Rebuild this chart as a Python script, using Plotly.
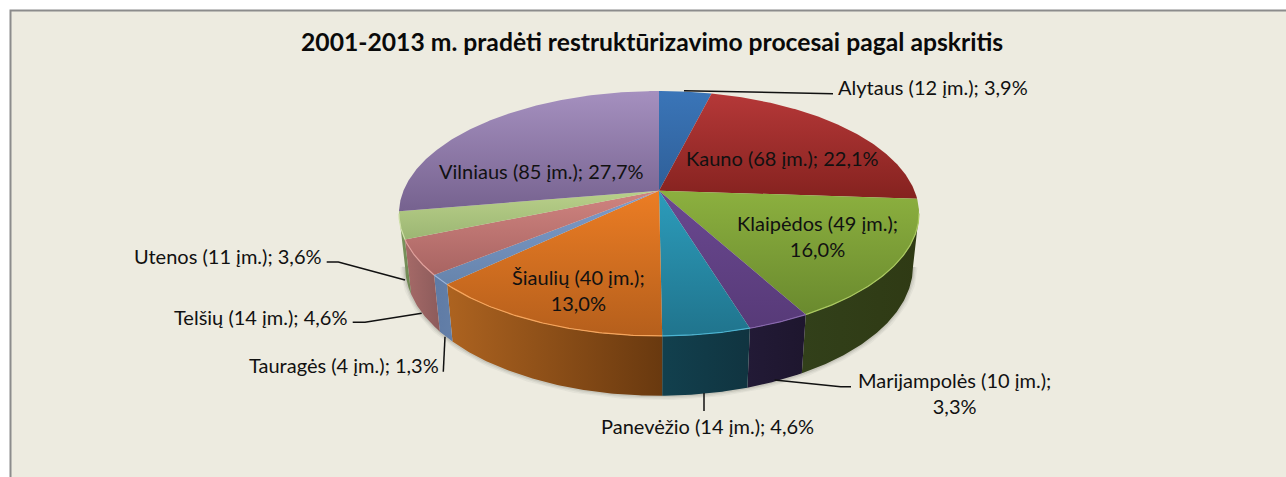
import numpy as np
import plotly.graph_objects as go

# ---------- data ----------
regions = ["Alytaus", "Kauno", "Klaipėdos", "Marijampolės", "Panevėžio",
           "Šiaulių", "Tauragės", "Telšių", "Utenos", "Vilniaus"]
companies = [12, 68, 49, 10, 14, 40, 4, 14, 11, 85]
shares = ["3,9", "22,1", "16,0", "3,3", "4,6", "13,0", "1,3", "4,6", "3,6", "27,7"]
title_text = "2001-2013 m. pradėti restruktūrizavimo procesai pagal apskritis"

# ---------- styles ----------
top_colors = [("#3a75b8", "#2f5f98"), ("#b53838", "#85221f"), ("#8cb03f", "#6a8a2e"),
              ("#6a4890", "#573a78"), ("#2c9cbb", "#20748d"), ("#ec7d24", "#b55f1c"),
              ("#7f9ccb", "#6684ac"), ("#d08480", "#a86462"), ("#b9d08a", "#9cb673"),
              ("#a590bf", "#76628f")]
wall_colors = [("#2f5f98", "#2f5f98"), ("#85221f", "#85221f"), ("#32401a", "#2f3a14"),
               ("#221a36", "#1e162e"), ("#12404e", "#103440"), ("#ad6320", "#69390f"),
               ("#5f7ba5", "#637fa8"), ("#a66a68", "#8c5b5b"), ("#7f9a60", "#6c8452"),
               ("#76628f", "#76628f")]
rim_colors = ["#5b93d0", "#d06060", "#aac860", "#8868ae", "#4cb4d2", "#f6a55c",
              "#9ab4da", "#e0a09c", "#cfe0a8", "#bca8d2"]
label_pos = [(933, 87), (782, 158), (817, 236), (954, 393), (707, 426),
             (578, 290), (344, 365), (260, 317), (228, 256), (541, 171)]
label_break = [False, False, True, True, False, True, False, False, False, False]
leaders = [[(684, 90.7), (833, 93.7)],
           None,
           None,
           [(774.6, 380), (840.7, 386.7), (851, 386.7)],
           [(704, 393), (704, 411)],
           None,
           [(445, 336.7), (443.3, 371.7)],
           [(421.7, 313.3), (365, 322.3), (352.7, 322.3)],
           [(405, 280), (338.3, 262), (326.7, 262)],
           None]

# perspective model of the pie (screen pixels)
CX, CY = 659.0, 190.7
A, P, K = 255.5, 118.2, 0.186
VPX, VPY = 660.0, 2500.0
T0 = 0.0225


def top_pt(theta):
    u, v = np.sin(theta), np.cos(theta)
    w = 1 + K * v
    return CX + A * u / w, CY - P * v / w


def bottom_pt(theta):
    x, y = top_pt(theta)
    t = T0 / (1 + K * np.cos(theta))
    return x + t * (VPX - x), y + t * (VPY - y)


total = sum(companies)
edges = 2 * np.pi * np.cumsum([0] + companies) / total
silhouette = np.arccos(-K)  # rim angle where the wall starts to be visible

fig = go.Figure()


def arc(a, b):
    return np.linspace(a, b, max(3, int(abs(b - a) * 120)))


# soft shadow around the wall
th = arc(silhouette, 2 * np.pi - silhouette)
bx, by = bottom_pt(th)
for width, alpha in [(9, 0.05), (6, 0.07), (3, 0.10)]:
    fig.add_trace(go.Scatter(x=bx, y=by, mode="lines", hoverinfo="skip",
                             line=dict(color=f"rgba(60,60,50,{alpha})", width=width)))

# walls
for i in range(len(regions)):
    a = max(edges[i], silhouette)
    b = min(edges[i + 1], 2 * np.pi - silhouette)
    if b <= a:
        continue
    th = arc(a, b)
    tx, ty = top_pt(th)
    bx, by = bottom_pt(th)
    xs = np.concatenate([tx, bx[::-1], tx[:1]])
    ys = np.concatenate([ty, by[::-1], ty[:1]])
    fig.add_trace(go.Scatter(
        x=xs, y=ys, mode="lines", fill="toself", hoverinfo="skip",
        line=dict(width=0, color="rgba(0,0,0,0)"),
        fillgradient=dict(type="horizontal",
                          colorscale=[[0, wall_colors[i][0]], [1, wall_colors[i][1]]])))

# tops (colour pair is light at the top of the screen, dark at the bottom)
for i in range(len(regions)):
    th = arc(edges[i], edges[i + 1])
    tx, ty = top_pt(th)
    xs = np.concatenate([[CX], tx, [CX]])
    ys = np.concatenate([[CY], ty, [CY]])
    fig.add_trace(go.Scatter(
        x=xs, y=ys, mode="lines", fill="toself", hoverinfo="skip",
        line=dict(width=0, color="rgba(0,0,0,0)"),
        fillgradient=dict(type="vertical",
                          colorscale=[[0, top_colors[i][1]], [1, top_colors[i][0]]])))

# bevel highlight on the front rim
for i in range(len(regions)):
    a = max(edges[i], silhouette)
    b = min(edges[i + 1], 2 * np.pi - silhouette)
    if b <= a:
        continue
    tx, ty = top_pt(arc(a, b))
    fig.add_trace(go.Scatter(x=tx, y=ty, mode="lines", hoverinfo="skip",
                             line=dict(color=rim_colors[i], width=1.2)))

# leader lines
for pts in leaders:
    if pts:
        fig.add_trace(go.Scatter(x=[p[0] for p in pts], y=[p[1] for p in pts], mode="lines",
                                 hoverinfo="skip", line=dict(color="#111111", width=1.5)))

# labels
annotations = []
for i, name in enumerate(regions):
    sep = "<br>" if label_break[i] else " "
    annotations.append(dict(
        x=label_pos[i][0], y=label_pos[i][1], xref="x", yref="y",
        text=f"{name} ({companies[i]} įm.);{sep}{shares[i]}%",
        showarrow=False, align="center", xanchor="center", yanchor="middle",
        font=dict(family="Lato", size=20, color="#111111")))
annotations.append(dict(
    x=652, y=41, xref="x", yref="y", text=f"<b>{title_text}</b>", showarrow=False,
    xanchor="center", yanchor="middle",
    font=dict(family="Lato", size=24.7, color="#0a0a0a")))

fig.update_layout(
    width=1286, height=477, margin=dict(l=0, r=0, t=0, b=0),
    paper_bgcolor="#ffffff", plot_bgcolor="#ffffff", showlegend=False,
    xaxis=dict(range=[0, 1286], visible=False, fixedrange=True),
    yaxis=dict(range=[477, 0], visible=False, fixedrange=True),
    annotations=annotations,
    shapes=[dict(type="rect", xref="x", yref="y", x0=10.5, y0=10.5, x1=1300, y1=500,
                 fillcolor="#edebe0", line=dict(color="#8c8c8c", width=2), layer="below")],
)
fig.write_html("out.html", config=dict(displayModeBar=False),
               post_script="document.body.style.margin='0';document.body.style.overflow='hidden';")
